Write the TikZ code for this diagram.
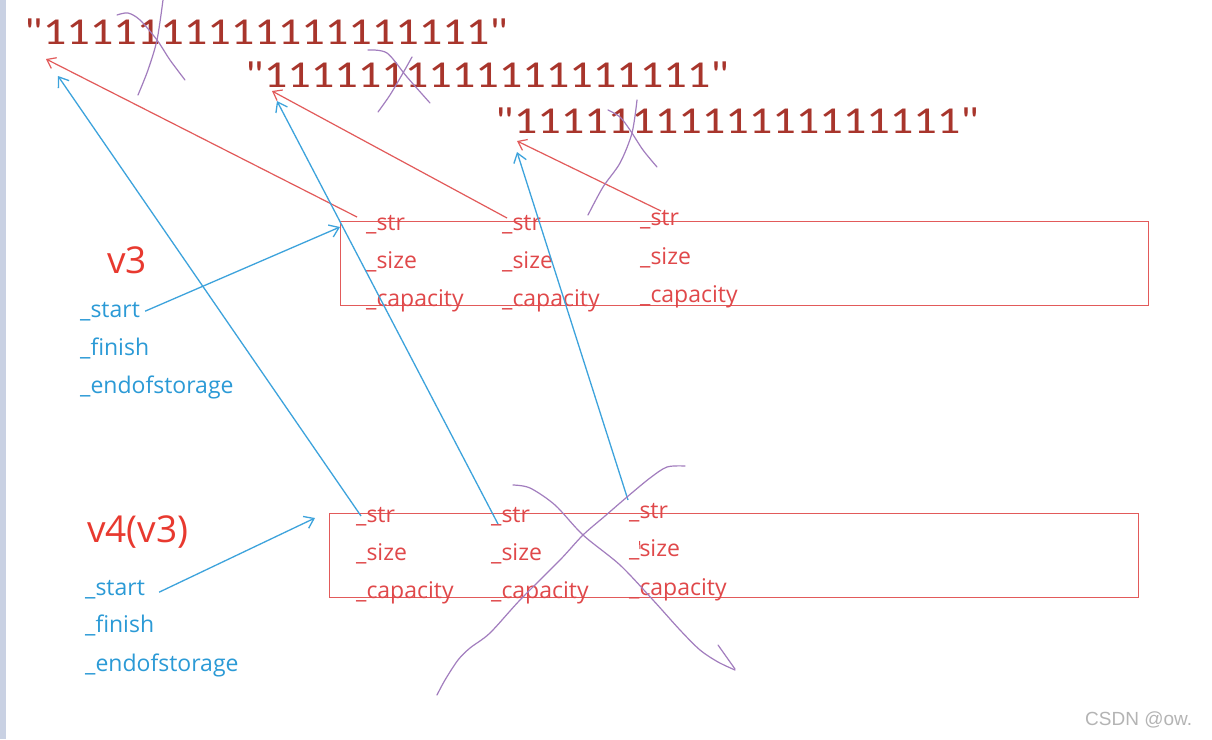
\documentclass[tikz,border=0pt]{standalone}
\usepackage{fontspec}
\usepackage{graphicx}
\setmainfont{Open Sans}
\newfontfamily\digitfont{Carlito}
\newfontfamily\wmfont{Liberation Sans}
\usetikzlibrary{arrows.meta}
\definecolor{strred}{HTML}{A8352C}
\definecolor{lblred}{HTML}{E0484A}
\definecolor{boxred}{HTML}{E25A5A}
\definecolor{vred}{HTML}{E8392F}
\definecolor{lblblue}{HTML}{2B9AD6}
\definecolor{arrblue}{HTML}{3DA3DC}
\definecolor{purp}{HTML}{A27DBE}
\definecolor{stripc}{HTML}{C9D1E3}
\definecolor{wmgray}{HTML}{B4B4B4}
\begin{document}
\begin{tikzpicture}[x=1pt,y=-1pt,
  stringnode/.style={anchor=base west, inner sep=0pt, text=strred, font=\digitfont\fontsize{38}{42}\selectfont},
  field/.style={anchor=base west, inner sep=0pt, text=lblred, font=\fontsize{23}{26}\selectfont},
  bfield/.style={anchor=base west, inner sep=0pt, text=lblblue, font=\fontsize{23}{26}\selectfont},
  vlabel/.style={anchor=base west, inner sep=0pt, text=vred, font=\fontsize{37}{40}\selectfont},
  boxnode/.style={draw=boxred, line width=1.4pt, anchor=north west, inner sep=0pt},
  redarr/.style={draw=boxred, line width=1.2pt, -{Straight Barb[length=8pt,width=12pt]}},
  bluearr/.style={draw=arrblue, line width=1.3pt, -{Straight Barb[length=9pt,width=13pt]}},
  cross/.style={draw=purp, line width=1.2pt, line cap=round, line join=round},
  wm/.style={anchor=base west, inner sep=0pt, text=wmgray, font=\wmfont\fontsize{19}{22}\selectfont}
]
\useasboundingbox (0,0) rectangle (1212,739);
\fill[white] (0,0) rectangle (1212,739);
\fill[stripc] (0,0) rectangle (6,739);

% strings
\node[stringnode] (s1) at (24,44) {\scalebox{1.22}[1]{"1111111111111111111"}};
\node[stringnode] (s2) at (245,87) {\scalebox{1.22}[1]{"1111111111111111111"}};
\node[stringnode] (s3) at (495,133) {\scalebox{1.22}[1]{"1111111111111111111"}};

% boxes
\node[boxnode, minimum width=808pt, minimum height=84pt] (box1) at (340,221) {};
\node[boxnode, minimum width=809pt, minimum height=84pt] (box2) at (329,513) {};

% box1 fields
\node[field] (a1) at (366,230) {\_str};
\node[field] (a2) at (366,268) {\_size};
\node[field] (a3) at (366,306) {\_capacity};
\node[field] (b1) at (502,230) {\_str};
\node[field] (b2) at (502,268) {\_size};
\node[field] (b3) at (502,306) {\_capacity};
\node[field] (c1) at (640,225) {\_str};
\node[field] (c2) at (640,264) {\_size};
\node[field] (c3) at (640,302) {\_capacity};

% box2 fields
\node[field] (d1) at (356,522) {\_str};
\node[field] (d2) at (356,560) {\_size};
\node[field] (d3) at (356,598) {\_capacity};
\node[field] (e1) at (491,522) {\_str};
\node[field] (e2) at (491,560) {\_size};
\node[field] (e3) at (491,598) {\_capacity};
\node[field] (f1) at (629,518) {\_str};
\node[field] (f2) at (629,556) {\_size};
\node[field] (f3) at (629,595) {\_capacity};
\draw[lblred, line width=1pt] (639.5,541) -- (640,549);

% v3 group
\node[vlabel] (v3) at (107,273) {v3};
\node[bfield] (v3s) at (80,317) {\_start};
\node[bfield] (v3f) at (80,355) {\_finish};
\node[bfield] (v3e) at (80,393) {\_endofstorage};

% v4 group
\node[vlabel] (v4) at (87,542) {v4(v3)};
\node[bfield] (v4s) at (85,595) {\_start};
\node[bfield] (v4f) at (85,632) {\_finish};
\node[bfield] (v4e) at (85,671) {\_endofstorage};

% arrow targets
\coordinate (rt1) at (46,59);
\coordinate (rt2) at (272,91);
\coordinate (rt3) at (517,141);
\coordinate (bt1) at (58,76);
\coordinate (bt2) at (277,101);
\coordinate (bt3) at (517,152);
\coordinate (bt4) at (340,227);
\coordinate (bt5) at (315,518);
\coordinate (ra) at (357,217);
\coordinate (rb) at (507,218);
\coordinate (rc) at (661,211);
\coordinate (ba) at (361,516);
\coordinate (bb) at (498,524);
\coordinate (bc) at (628,500);

% red arrows
\draw[redarr] (ra) -- (rt1);
\draw[redarr] (rb) -- (rt2);
\draw[redarr] (rc) -- (rt3);

% blue arrows
\draw[bluearr] ([xshift=5pt]v3s.east) -- (bt4);
\draw[bluearr] ([xshift=14pt,yshift=-3pt]v4s.east) -- (bt5);
\draw[bluearr] (ba) -- (bt1);
\draw[bluearr] (bb) -- (bt2);
\draw[bluearr] (bc) -- (bt3);

% purple crosses over strings
\draw[cross] plot[smooth] coordinates {(163,0) (157,40) (148,70) (138,95)};
\draw[cross] plot[smooth] coordinates {(117,15) (128,13) (140,20) (157,40) (170,60) (185,80)};
\draw[cross] plot[smooth] coordinates {(412,57) (403,73) (390,95) (378,112)};
\draw[cross] plot[smooth] coordinates {(368,50) (387,53) (407,77) (430,103)};
\draw[cross] plot[smooth] coordinates {(637,100) (632,133) (620,163) (603,187) (588,215)};
\draw[cross] plot[smooth] coordinates {(608,110) (620,117) (630,130) (643,150) (657,167)};

% big X over box2
\draw[cross] plot[smooth] coordinates {(685,466) (667,467) (650,478) (627,497) (605,516) (583,535) (560,560) (520,600) (490,633) (470,648) (458,660) (445,680) (437,695)};
\draw[cross] plot[smooth] coordinates {(513,485) (530,488) (555,505) (583,535) (620,565) (653,600) (680,630) (700,650) (718,662) (735,670)};
\draw[cross] (718,645) -- (735,669);

% watermark
\node[wm] (wmk) at (1085,725) {CSDN @ow.};
\end{tikzpicture}
\end{document}
